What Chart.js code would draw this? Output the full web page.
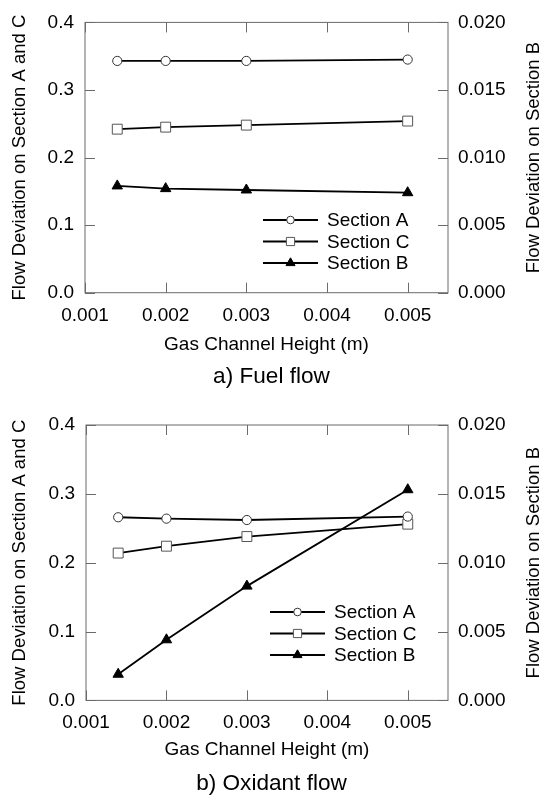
<!DOCTYPE html>
<html>
<head>
<meta charset="utf-8">
<script src="https://cdn.jsdelivr.net/npm/chart.js@4.4.1/dist/chart.umd.min.js"></script>
<style>
  body { margin: 0; background: #fff; }
  .wrap { position: relative; width: 543px; height: 795px; }
  canvas { position: absolute; left: 0; }
  #fuelChart { top: 0; }
  #oxidantChart { top: 400px; }
</style>
</head>
<body>
<div class="wrap">
  <canvas id="fuelChart" width="543" height="400"></canvas>
  <canvas id="oxidantChart" width="543" height="395"></canvas>
</div>
<script>
/* global Chart */

// gas channel heights (m) where the flow deviation was evaluated
const channelHeights = [0.0014, 0.002, 0.003, 0.005]

const xTicks = [0.001, 0.002, 0.003, 0.004, 0.005]
const leftTicks = [0, 0.1, 0.2, 0.3, 0.4]
const rightTicks = [0, 0.005, 0.01, 0.015, 0.02]

// a) fuel flow
const fuelSectionA = [0.343, 0.343, 0.343, 0.345]
const fuelSectionC = [0.242, 0.245, 0.248, 0.254]
const fuelSectionB = [0.0079, 0.0077, 0.0076, 0.0074]

// b) oxidant flow
const oxidantSectionA = [0.266, 0.264, 0.262, 0.267]
const oxidantSectionC = [0.214, 0.224, 0.238, 0.256]
const oxidantSectionB = [0.0019, 0.0044, 0.0083, 0.0153]

const FONT = '"Liberation Sans", Arial, Helvetica, sans-serif'
Chart.defaults.font.family = FONT
Chart.defaults.color = '#000'

function toPoints(values) {
  return channelHeights.map((x, i) => ({ x, y: values[i] }))
}

// plot frame plus the small inward ticks on all four sides
const frameTicks = {
  id: 'frameTicks',
  beforeDatasetsDraw(chart) {
    const { ctx, chartArea: a, scales } = chart
    const len = 10
    ctx.save()
    ctx.strokeStyle = '#6b6b6b'
    ctx.lineWidth = 1
    ctx.strokeRect(a.left, a.top, a.right - a.left, a.bottom - a.top)
    ctx.beginPath()
    for (const v of xTicks) {
      const px = Math.round(scales.x.getPixelForValue(v)) + 0.5
      ctx.moveTo(px, a.top); ctx.lineTo(px, a.top + len)
      ctx.moveTo(px, a.bottom); ctx.lineTo(px, a.bottom - len)
    }
    for (const v of leftTicks) {
      const py = Math.round(scales.y.getPixelForValue(v)) + 0.5
      ctx.moveTo(a.left, py); ctx.lineTo(a.left + len, py)
    }
    for (const v of rightTicks) {
      const py = Math.round(scales.y1.getPixelForValue(v)) + 0.5
      ctx.moveTo(a.right, py); ctx.lineTo(a.right - len, py)
    }
    ctx.stroke()
    ctx.restore()
  }
}

// right axis title reads bottom-to-top like the left one
const rightTitle = {
  id: 'rightTitle',
  afterDraw(chart, args, opts) {
    const { ctx, chartArea: a } = chart
    ctx.save()
    ctx.font = `${opts.size}px ${FONT}`
    ctx.fillStyle = '#000'
    ctx.textAlign = 'center'
    ctx.textBaseline = 'middle'
    ctx.translate(opts.x, (a.top + a.bottom) / 2)
    ctx.rotate(-Math.PI / 2)
    ctx.fillText(opts.text, 0, 0)
    ctx.restore()
  }
}

// legend inside the plot: short line with the marker in the middle
const lineLegend = {
  id: 'lineLegend',
  afterDatasetsDraw(chart, args, opts) {
    const { ctx, chartArea: a } = chart
    const x0 = a.left + opts.left
    ctx.save()
    chart.data.datasets.forEach((ds, i) => {
      const y = a.top + opts.top + i * opts.gap
      ctx.strokeStyle = ds.borderColor
      ctx.lineWidth = ds.borderWidth
      ctx.beginPath()
      ctx.moveTo(x0, y)
      ctx.lineTo(x0 + opts.lineLen, y)
      ctx.stroke()
      ctx.fillStyle = ds.pointBackgroundColor
      ctx.strokeStyle = ds.pointBorderColor
      ctx.lineWidth = 1
      Chart.helpers.drawPoint(ctx, {
        pointStyle: ds.pointStyle,
        radius: ds.legendRadius,
        borderWidth: 1,
        rotation: 0
      }, x0 + opts.lineLen / 2, y)
      ctx.fillStyle = '#000'
      ctx.font = `${opts.size}px ${FONT}`
      ctx.textAlign = 'left'
      ctx.textBaseline = 'middle'
      ctx.fillText(ds.label, x0 + opts.lineLen + opts.textGap, y + 1)
    })
    ctx.restore()
  }
}

function makeDatasets(a, c, b) {
  return [{
    label: 'Section A',
    data: toPoints(a),
    yAxisID: 'y',
    borderColor: '#000',
    borderWidth: 1.8,
    pointStyle: 'circle',
    pointRadius: 4.6,
    legendRadius: 3.8,
    pointBackgroundColor: '#fff',
    pointBorderColor: '#333',
    pointBorderWidth: 1
  }, {
    label: 'Section C',
    data: toPoints(c),
    yAxisID: 'y',
    borderColor: '#000',
    borderWidth: 1.8,
    pointStyle: 'rect',
    pointRadius: 7,
    legendRadius: 5.8,
    pointBackgroundColor: '#fff',
    pointBorderColor: '#555',
    pointBorderWidth: 1
  }, {
    label: 'Section B',
    data: toPoints(b),
    yAxisID: 'y1',
    borderColor: '#000',
    borderWidth: 1.8,
    pointStyle: 'triangle',
    pointRadius: 6,
    legendRadius: 5.2,
    pointBackgroundColor: '#000',
    pointBorderColor: '#000',
    pointBorderWidth: 1
  }]
}

function makeChart(canvasId, caption, datasets, lay) {
  return new Chart(document.getElementById(canvasId), {
    type: 'line',
    data: { datasets },
    plugins: [frameTicks, rightTitle, lineLegend],
    options: {
      responsive: false,
      animation: false,
      devicePixelRatio: 1,
      layout: { padding: { top: lay.top, left: 0, right: 0, bottom: 0 } },
      elements: { line: { tension: 0 } },
      scales: {
        x: {
          type: 'linear',
          min: 0.001,
          max: 0.0055,
          afterBuildTicks: s => { s.ticks = xTicks.map(v => ({ value: v })) },
          afterFit: s => { s.height = lay.xHeight },
          grid: { display: false, drawTicks: false },
          border: { display: false },
          ticks: { padding: lay.xTickPad, autoSkip: false, maxRotation: 0, font: { size: 19 }, callback: v => v.toFixed(3) },
          title: { display: true, text: 'Gas Channel Height (m)', font: { size: 19 }, padding: { top: 0, bottom: lay.xTitlePad } }
        },
        y: {
          position: 'left',
          min: 0,
          max: 0.4,
          afterBuildTicks: s => { s.ticks = leftTicks.map(v => ({ value: v })) },
          afterFit: s => { s.width = lay.left },
          grid: { display: false, drawTicks: false },
          border: { display: false },
          ticks: { padding: 11, font: { size: 19 }, callback: v => v.toFixed(1) },
          title: { display: true, text: 'Flow Deviation on Section A and C', font: { size: 18.5 }, padding: { top: 9, bottom: 0 } }
        },
        y1: {
          position: 'right',
          min: 0,
          max: 0.02,
          afterBuildTicks: s => { s.ticks = rightTicks.map(v => ({ value: v })) },
          afterFit: s => { s.width = 95 },
          grid: { display: false, drawTicks: false },
          border: { display: false },
          ticks: { padding: 10, font: { size: 19 }, callback: v => v.toFixed(3) }
        }
      },
      plugins: {
        legend: { display: false },
        tooltip: { enabled: false },
        title: {
          display: true,
          text: caption,
          position: 'bottom',
          color: '#000',
          font: { size: 22.6, weight: 'normal', lineHeight: 1 },
          padding: { top: 0, bottom: lay.captionPad }
        },
        rightTitle: { text: 'Flow Deviation on Section B', size: 18.5, x: 534 },
        lineLegend: { left: lay.legendLeft, top: lay.legendTop, gap: 21.5, lineLen: 55, textGap: 9, size: 19 }
      }
    }
  })
}

makeChart('fuelChart', 'a) Fuel flow',
  makeDatasets(fuelSectionA, fuelSectionC, fuelSectionB),
  { top: 17.7, left: 85, xHeight: 72.7, xTickPad: 11.6, xTitlePad: 9.7, captionPad: 12, legendLeft: 178, legendTop: 197.6 })

makeChart('oxidantChart', 'b) Oxidant flow',
  makeDatasets(oxidantSectionA, oxidantSectionC, oxidantSectionB),
  { top: 25, left: 86, xHeight: 72, xTickPad: 11.3, xTitlePad: 11.3, captionPad: 0, legendLeft: 184, legendTop: 187 })
</script>
</body>
</html>
